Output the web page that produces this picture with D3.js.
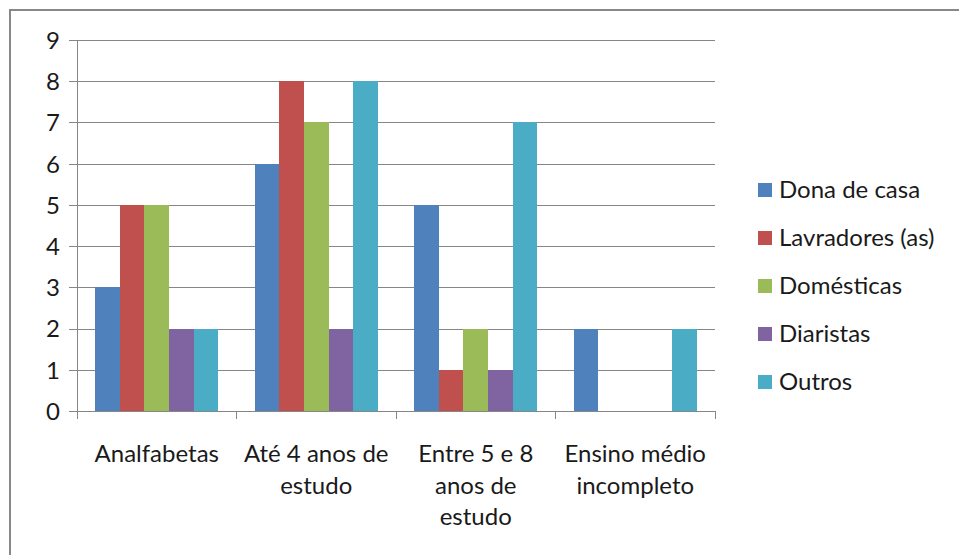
<!DOCTYPE html>
<html>
<head>
<meta charset="utf-8">
<script src="https://cdn.jsdelivr.net/npm/d3@7"></script>
<style>
  html, body { margin: 0; padding: 0; background: #fff; }
  svg { display: block; }
  text { font-family: Lato, "Open Sans", sans-serif; fill: #1a1a1a; }
</style>
</head>
<body>
<svg id="chart" width="959" height="555"></svg>
<script>
// Education level groups (line breaks as shown under the axis)
const categories = [
  ["Analfabetas"],
  ["Até 4 anos de", "estudo"],
  ["Entre 5 e 8", "anos de", "estudo"],
  ["Ensino médio", "incompleto"]
];
const seriesNames = ["Dona de casa", "Lavradores (as)", "Domésticas", "Diaristas", "Outros"];
const seriesColors = ["#4F81BD", "#C0504D", "#9BBB59", "#8064A2", "#4BACC6"];
// values[s][c]: series s, category c
const values = [
  [3, 6, 5, 2],
  [5, 8, 1, 0],
  [5, 7, 2, 0],
  [2, 2, 1, 0],
  [2, 8, 7, 2]
];
const yTicks = [0, 1, 2, 3, 4, 5, 6, 7, 8, 9];

const svg = d3.select("#chart");
const fontSize = 24;

// Outer chart frame (runs past the right and bottom edges)
svg.append("rect")
  .attr("x", 10).attr("y", 10)
  .attr("width", 1000).attr("height", 600)
  .attr("fill", "none").attr("stroke", "#888").attr("stroke-width", 2);

const plot = { left: 77, right: 715, top: 40, bottom: 411 };

const x = d3.scaleBand()
  .domain(d3.range(categories.length))
  .range([plot.left, plot.right])
  .paddingInner(0).paddingOuter(0);

const y = d3.scaleLinear().domain([0, 9]).range([plot.bottom, plot.top]);

// Bars inside each band: 5 bars, gap of 1.5 bar widths split on both sides
const inner = d3.scaleBand()
  .domain(d3.range(seriesNames.length))
  .range([0, x.bandwidth()])
  .paddingInner(0)
  .paddingOuter(0.75);

// Horizontal gridlines with outside ticks
const yAxis = d3.axisLeft(y)
  .tickValues(yTicks)
  .tickSize(-(plot.right - plot.left))
  .tickPadding(17)
  .tickFormat(d3.format("d"));

const gy = svg.append("g")
  .attr("transform", `translate(${plot.left},0)`)
  .call(yAxis);
gy.select(".domain").remove();
gy.selectAll(".tick line")
  .attr("x1", -8)
  .attr("stroke", "#868686").attr("stroke-width", 1)
  .attr("shape-rendering", "crispEdges");
gy.selectAll(".tick text")
  .style("font-size", fontSize + "px")
  .attr("fill", "#1a1a1a")
  .attr("dy", "0.35em");

// Vertical value axis line
svg.append("line")
  .attr("x1", plot.left).attr("x2", plot.left)
  .attr("y1", plot.top).attr("y2", plot.bottom + 8)
  .attr("stroke", "#868686").attr("shape-rendering", "crispEdges");

// Bars
const groups = svg.append("g").selectAll("g")
  .data(values)
  .join("g")
  .attr("fill", (d, i) => seriesColors[i]);

groups.each(function (row, s) {
  d3.select(this).selectAll("rect")
    .data(row.map((v, c) => ({ v, c })))
    .join("rect")
    .attr("x", d => x(d.c) + inner(s))
    .attr("width", inner.bandwidth())
    .attr("y", d => y(d.v))
    .attr("height", d => y(0) - y(d.v))
    .attr("shape-rendering", "crispEdges");
});

// Category axis line and boundary ticks
svg.append("line")
  .attr("x1", plot.left).attr("x2", plot.right)
  .attr("y1", plot.bottom).attr("y2", plot.bottom)
  .attr("stroke", "#868686").attr("shape-rendering", "crispEdges");

const boundaries = d3.range(categories.length + 1).map(i =>
  i < categories.length ? x(i) : x(i - 1) + x.bandwidth());
svg.append("g").selectAll("line")
  .data(boundaries)
  .join("line")
  .attr("x1", d => d).attr("x2", d => d)
  .attr("y1", plot.bottom).attr("y2", plot.bottom + 8)
  .attr("stroke", "#868686").attr("shape-rendering", "crispEdges");

// Category labels
const lineHeight = 31.5;
svg.append("g").selectAll("text")
  .data(categories)
  .join("text")
  .attr("x", (d, i) => x(i) + x.bandwidth() / 2)
  .attr("y", 462)
  .attr("text-anchor", "middle")
  .style("font-size", fontSize + "px")
  .each(function (lines) {
    d3.select(this).selectAll("tspan")
      .data(lines)
      .join("tspan")
      .attr("x", d3.select(this).attr("x"))
      .attr("dy", (d, i) => i === 0 ? 0 : lineHeight)
      .text(d => d);
  });

// Legend
const legend = svg.append("g").selectAll("g")
  .data(seriesNames)
  .join("g")
  .attr("transform", (d, i) => `translate(758,${190 + i * 48})`);
legend.append("rect")
  .attr("x", 0).attr("y", -7)
  .attr("width", 14).attr("height", 14)
  .attr("fill", (d, i) => seriesColors[i]);
legend.append("text")
  .attr("x", 21).attr("y", 0)
  .attr("dy", "0.35em")
  .style("font-size", fontSize + "px")
  .text(d => d);
</script>
</body>
</html>
